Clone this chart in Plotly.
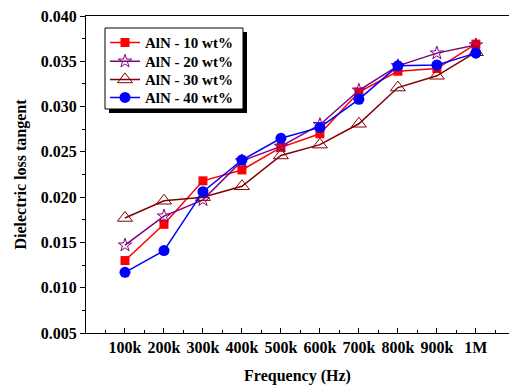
import plotly.graph_objects as go

freq_pos = [1, 2, 3, 4, 5, 6, 7, 8, 9, 10]
freq_labels = ["100k", "200k", "300k", "400k", "500k", "600k", "700k", "800k", "900k", "1M"]

aln_10 = [0.0130, 0.0170, 0.0218, 0.0230, 0.0255, 0.0270, 0.0316, 0.0339, 0.0342, 0.0369]
aln_20 = [0.0147, 0.0179, 0.0197, 0.0240, 0.0256, 0.0280, 0.0318, 0.0345, 0.0359, 0.0368]
aln_30 = [0.0177, 0.0196, 0.0200, 0.0212, 0.0246, 0.0258, 0.0281, 0.0321, 0.0334, 0.0360]
aln_40 = [0.0117, 0.0141, 0.0206, 0.0241, 0.0265, 0.0277, 0.0308, 0.0345, 0.0346, 0.0359]

series = [
    ("AlN - 10 wt%", aln_10, "#FF0000", dict(symbol="square", size=9, color="#FF0000")),
    ("AlN - 20 wt%", aln_20, "#800080", dict(symbol="star-open", size=10, color="#800080", line=dict(width=1))),
    ("AlN - 30 wt%", aln_30, "#800000", dict(symbol="triangle-up-open", size=13, color="#800000", line=dict(width=1))),
    ("AlN - 40 wt%", aln_40, "#0000FF", dict(symbol="circle", size=11, color="#0000FF")),
]

FONT = "Liberation Serif, Times New Roman, serif"

W, H = 509, 386
L, R, T, B = 86, 0, 16, 53
pw, ph = W - L - R, H - T - B

def px_x(p):
    return (p - L) / pw

def px_y(p):
    return (H - B - p) / ph

legend_ids = ["legend", "legend2", "legend3", "legend4"]
legend_rows = [42.7, 61.5, 79.7, 97.7]

fig = go.Figure()
for (name, vals, col, mk), lid in zip(series, legend_ids):
    fig.add_trace(go.Scatter(x=freq_pos, y=vals, name=name, mode="lines+markers",
                             line=dict(color=col, width=1.5), marker=mk, legend=lid))

# legend shadow and frame
fig.add_shape(type="rect", xref="paper", yref="paper",
              x0=px_x(109), x1=px_x(247), y0=px_y(113), y1=px_y(32),
              fillcolor="black", line=dict(width=0), layer="below")
fig.add_shape(type="rect", xref="paper", yref="paper",
              x0=px_x(105), x1=px_x(243), y0=px_y(109), y1=px_y(28),
              fillcolor="white", line=dict(width=1, color="black"), layer="below")

legend_layout = {}
for lid, row in zip(legend_ids, legend_rows):
    legend_layout[lid] = dict(x=px_x(105), y=px_y(row), xanchor="left", yanchor="middle",
                              bgcolor="rgba(0,0,0,0)", borderwidth=0,
                              font=dict(family=FONT, size=15, weight="bold"))

fig.update_layout(
    width=W, height=H,
    margin=dict(l=L, r=R, t=T, b=B),
    paper_bgcolor="white", plot_bgcolor="white",
    font=dict(family=FONT, color="black", size=16, weight="bold"),
    showlegend=True,
    **legend_layout,
    xaxis=dict(range=[0, 10.85], tickvals=freq_pos, ticktext=freq_labels,
               ticks="inside", ticklen=5, tickwidth=1, tickcolor="black",
               minor=dict(ticks="inside", ticklen=3, dtick=0.5, tick0=0.5, tickcolor="black"),
               showline=True, linecolor="black", linewidth=1, mirror=True,
               showgrid=False, zeroline=False,
               title=dict(text="Frequency (Hz)", font=dict(size=16, weight="bold"), standoff=14),
               tickfont=dict(size=16, weight="bold")),
    yaxis=dict(range=[0.005, 0.040], dtick=0.005, tickformat=".3f",
               ticks="outside", ticklen=5, tickwidth=1, tickcolor="black",
               minor=dict(ticks="outside", ticklen=3, dtick=0.0025, tickcolor="black"),
               showline=True, linecolor="black", linewidth=1,
               showgrid=False, zeroline=False,
               title=dict(text="Dielectric loss tangent", font=dict(size=16, weight="bold"), standoff=10),
               tickfont=dict(size=16, weight="bold")),
)

fig.write_html("out.html")
